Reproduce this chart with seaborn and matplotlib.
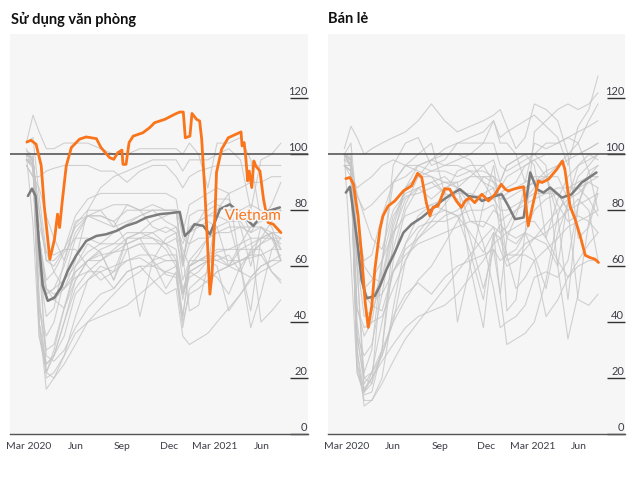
"""Office use and retail mobility, Vietnam against other countries."""

import matplotlib
matplotlib.use("Agg")
import matplotlib.patheffects as pe
import matplotlib.pyplot as plt
import matplotlib.transforms as mtransforms
import pandas as pd
import seaborn as sns


sns.set_theme(style="white")
plt.rcParams["font.family"] = ["Lato", "DejaVu Sans"]

ORANGE = "#f9741a"
GREY_LINE = "#c6c6c6"
MEDIAN_GREY = "#7c7c7c"
PANEL_BG = "#f6f6f6"

# shared sample dates for the grey country lines
GRID_DATES = ["2020-02-26", "2020-03-10", "2020-03-22", "2020-04-05", "2020-04-20",
              "2020-05-10", "2020-06-01", "2020-06-25", "2020-07-20", "2020-08-15",
              "2020-09-10", "2020-10-05", "2020-10-30", "2020-11-25", "2020-12-15",
              "2020-12-28", "2021-01-10", "2021-01-28", "2021-02-15", "2021-03-05",
              "2021-03-28", "2021-04-20", "2021-05-10", "2021-05-30", "2021-06-20",
              "2021-07-08"]

# --- office use, other countries ---
office_uk = [100, 98, 60, 28, 26, 30, 38, 45, 50, 52, 58, 60, 55, 50, 52, 35, 32, 34, 36, 40, 45, 50, 55, 58, 60, 62]
office_es = [102, 97, 40, 22, 20, 28, 42, 55, 60, 58, 62, 63, 60, 58, 57, 40, 50, 52, 55, 58, 60, 62, 63, 64, 58, 55]
office_it = [100, 75, 35, 25, 28, 40, 55, 62, 65, 55, 66, 68, 62, 57, 56, 38, 52, 55, 58, 56, 50, 60, 65, 68, 70, 62]
office_fr = [101, 100, 45, 30, 32, 45, 60, 68, 65, 55, 70, 70, 62, 52, 58, 42, 60, 62, 64, 62, 60, 58, 66, 70, 72, 62]
office_de = [100, 99, 70, 55, 58, 65, 70, 70, 68, 68, 72, 72, 70, 66, 60, 42, 58, 60, 62, 64, 62, 62, 64, 68, 72, 70]
office_us = [100, 99, 65, 48, 48, 52, 56, 58, 58, 60, 62, 64, 64, 62, 62, 48, 60, 62, 63, 65, 66, 68, 70, 70, 72, 72]
office_in = [98, 96, 40, 25, 28, 40, 52, 58, 62, 66, 70, 72, 76, 78, 80, 72, 82, 84, 86, 88, 86, 60, 38, 50, 66, 70]
office_br = [98, 96, 60, 50, 52, 55, 60, 65, 68, 72, 75, 78, 80, 80, 80, 62, 72, 74, 76, 74, 60, 68, 74, 76, 78, 80]
office_jp = [96, 92, 88, 78, 70, 62, 75, 80, 80, 74, 82, 80, 82, 80, 80, 60, 78, 80, 80, 82, 80, 80, 72, 78, 80, 80]
office_kr = [96, 92, 92, 94, 95, 96, 96, 96, 94, 94, 90, 94, 96, 96, 92, 88, 92, 94, 95, 96, 96, 96, 96, 96, 96, 96]
office_tw = [104, 114, 108, 102, 102, 104, 104, 104, 102, 100, 100, 102, 102, 102, 102, 100, 104, 100, 88, 104, 104, 106, 98, 76, 82, 90]
office_id = [98, 98, 70, 52, 48, 45, 55, 62, 66, 68, 68, 70, 70, 68, 70, 60, 68, 70, 70, 72, 74, 74, 60, 74, 72, 62]
office_ph = [98, 95, 35, 22, 28, 35, 50, 55, 58, 52, 58, 60, 60, 62, 62, 50, 60, 62, 62, 60, 44, 50, 56, 60, 62, 62]
office_mx = [100, 98, 70, 52, 50, 52, 58, 62, 64, 65, 66, 68, 68, 68, 66, 50, 56, 58, 62, 64, 60, 66, 68, 70, 70, 70]
office_au = [100, 98, 80, 62, 62, 66, 74, 78, 76, 74, 76, 78, 80, 80, 80, 62, 72, 76, 78, 80, 82, 80, 82, 80, 74, 66]
office_ar = [98, 98, 50, 20, 22, 28, 36, 40, 42, 44, 46, 50, 54, 58, 60, 50, 58, 60, 62, 62, 64, 58, 56, 60, 62, 64]
office_za = [100, 98, 70, 22, 30, 45, 58, 62, 62, 65, 68, 70, 72, 74, 72, 55, 62, 66, 70, 72, 72, 74, 74, 74, 70, 66]
office_pe = [98, 96, 40, 16, 20, 25, 32, 40, 45, 50, 55, 58, 62, 64, 64, 52, 58, 56, 54, 58, 60, 62, 64, 64, 66, 66]
office_th = [98, 97, 80, 62, 60, 66, 78, 84, 86, 86, 86, 86, 86, 86, 84, 70, 68, 76, 82, 84, 84, 74, 72, 74, 70, 68]
office_tr = [98, 96, 70, 50, 52, 60, 72, 78, 78, 76, 80, 80, 80, 76, 74, 68, 74, 76, 78, 78, 76, 60, 44, 70, 76, 80]
office_my = [100, 96, 45, 35, 40, 55, 70, 78, 80, 82, 82, 80, 74, 72, 74, 66, 60, 64, 70, 74, 76, 76, 70, 40, 44, 48]
office_se = [100, 98, 75, 65, 64, 66, 66, 60, 55, 58, 70, 72, 72, 68, 62, 50, 62, 62, 64, 66, 66, 66, 66, 66, 58, 54]
office_il = [100, 98, 60, 42, 45, 62, 76, 78, 78, 76, 68, 42, 62, 70, 72, 64, 44, 46, 60, 80, 86, 88, 90, 90, 92, 92]
office_eg = [104, 106, 85, 65, 58, 52, 62, 80, 88, 92, 94, 96, 98, 98, 98, 94, 98, 98, 98, 100, 102, 98, 80, 98, 100, 104]

# --- retail, other countries ---
retail_uk = [100, 95, 35, 20, 22, 28, 40, 62, 72, 78, 80, 78, 65, 48, 72, 50, 32, 34, 36, 40, 55, 78, 88, 90, 92, 92]
retail_es = [100, 96, 25, 12, 12, 20, 45, 68, 78, 82, 80, 78, 72, 65, 72, 70, 62, 64, 68, 70, 75, 80, 84, 88, 90, 88]
retail_it = [100, 62, 22, 15, 18, 30, 62, 80, 88, 90, 86, 84, 70, 52, 66, 50, 70, 68, 72, 64, 52, 72, 82, 92, 96, 100]
retail_fr = [100, 98, 22, 14, 15, 30, 70, 88, 92, 92, 90, 90, 60, 38, 70, 75, 72, 70, 72, 70, 68, 60, 84, 96, 100, 98]
retail_de = [100, 99, 45, 35, 40, 62, 78, 85, 86, 88, 90, 88, 82, 68, 52, 38, 40, 42, 46, 56, 58, 56, 62, 82, 94, 96]
retail_us = [100, 100, 65, 52, 55, 62, 72, 78, 80, 82, 84, 86, 86, 84, 84, 80, 80, 82, 84, 88, 92, 96, 98, 100, 102, 104]
retail_in = [96, 94, 35, 18, 22, 30, 40, 48, 55, 60, 68, 76, 84, 92, 92, 90, 96, 98, 100, 100, 96, 60, 34, 50, 76, 88]
retail_br = [96, 96, 45, 38, 40, 42, 52, 62, 70, 76, 82, 88, 92, 96, 98, 90, 96, 98, 100, 96, 70, 84, 92, 96, 98, 100]
retail_jp = [96, 94, 86, 78, 70, 66, 80, 86, 88, 84, 88, 90, 92, 92, 90, 84, 86, 88, 90, 92, 92, 92, 84, 86, 90, 92]
retail_kr = [96, 92, 88, 90, 92, 96, 98, 96, 94, 92, 86, 94, 96, 96, 90, 88, 92, 94, 96, 98, 100, 100, 100, 100, 102, 104]
retail_tw = [102, 110, 106, 100, 102, 104, 106, 108, 112, 118, 112, 108, 110, 112, 114, 116, 110, 102, 106, 118, 116, 112, 100, 70, 74, 86]
retail_id = [98, 98, 65, 50, 46, 44, 58, 68, 74, 76, 76, 78, 80, 80, 82, 76, 78, 80, 82, 84, 86, 86, 80, 84, 80, 62]
retail_ph = [96, 94, 25, 16, 20, 28, 42, 50, 54, 50, 56, 60, 62, 64, 66, 62, 64, 64, 64, 62, 42, 48, 56, 60, 62, 62]
retail_mx = [100, 98, 70, 50, 48, 50, 58, 64, 68, 70, 72, 74, 76, 76, 74, 66, 60, 62, 66, 70, 72, 76, 80, 82, 84, 86]
retail_au = [100, 98, 72, 62, 64, 78, 90, 96, 96, 94, 96, 98, 100, 104, 104, 96, 94, 96, 98, 100, 104, 104, 106, 104, 94, 80]
retail_ar = [96, 96, 30, 15, 20, 26, 32, 38, 42, 44, 46, 50, 56, 62, 68, 70, 72, 74, 76, 76, 70, 62, 56, 62, 68, 72]
retail_za = [100, 98, 60, 15, 22, 40, 58, 66, 70, 74, 78, 80, 84, 86, 88, 72, 74, 80, 84, 86, 86, 88, 88, 88, 84, 78]
retail_pe = [96, 94, 30, 10, 12, 18, 26, 34, 40, 46, 52, 58, 64, 70, 74, 72, 64, 52, 56, 62, 66, 70, 74, 76, 78, 80]
retail_th = [98, 96, 70, 50, 48, 56, 76, 88, 92, 94, 94, 92, 94, 94, 92, 84, 70, 78, 88, 90, 92, 82, 76, 78, 76, 72]
retail_tr = [96, 94, 62, 42, 44, 54, 74, 88, 96, 98, 100, 100, 98, 90, 84, 86, 88, 90, 96, 98, 92, 78, 48, 82, 92, 96]
retail_my = [100, 96, 35, 28, 32, 50, 72, 84, 88, 90, 92, 88, 76, 74, 80, 78, 64, 66, 72, 80, 84, 86, 80, 48, 46, 50]
retail_se = [100, 98, 85, 80, 82, 86, 90, 92, 96, 98, 96, 96, 94, 90, 88, 84, 84, 86, 88, 90, 94, 96, 100, 104, 112, 118]
retail_il = [100, 96, 40, 22, 30, 62, 90, 96, 100, 104, 86, 40, 60, 82, 96, 80, 44, 48, 72, 108, 112, 116, 118, 116, 118, 122]
retail_eg = [100, 104, 80, 60, 56, 54, 66, 82, 92, 98, 102, 104, 106, 108, 112, 106, 108, 110, 112, 114, 110, 106, 96, 110, 116, 128]
retail_nz = [100, 100, 60, 20, 18, 60, 96, 104, 106, 96, 98, 104, 104, 104, 112, 104, 104, 100, 90, 104, 102, 104, 106, 108, 110, 112]

# --- office use: median and Vietnam ---
office_median_dates = ["2020-02-29", "2020-03-08", "2020-03-15", "2020-03-22", "2020-03-29",
                       "2020-04-08", "2020-04-21", "2020-05-04", "2020-05-17", "2020-06-02",
                       "2020-06-22", "2020-07-12", "2020-07-31", "2020-08-20", "2020-09-08",
                       "2020-09-28", "2020-10-18", "2020-11-13", "2020-12-06", "2020-12-22",
                       "2021-01-01", "2021-01-11", "2021-01-20", "2021-02-06", "2021-02-19",
                       "2021-03-11", "2021-03-30", "2021-04-25", "2021-05-15", "2021-06-04",
                       "2021-07-06"]
office_median = [85.1, 87.7, 85.1, 67.3, 53, 47.6, 48.8, 52.4, 58.3, 63.7, 69, 70.8, 71.4,
                 72.6, 74.4, 75.6, 77.4, 78.6, 79, 79.4, 70.8, 72.6, 75, 74.4, 71.4, 80.4,
                 82.1, 78, 74.4, 79.2, 81]

office_vn_dates = ["2020-02-27", "2020-03-06", "2020-03-16", "2020-03-26", "2020-04-01",
                   "2020-04-12", "2020-04-21", "2020-04-27", "2020-05-01", "2020-05-06",
                   "2020-05-14", "2020-05-24", "2020-06-09", "2020-06-22", "2020-07-12",
                   "2020-07-21", "2020-08-07", "2020-08-15", "2020-08-23", "2020-08-31",
                   "2020-09-02", "2020-09-08", "2020-09-14", "2020-09-22", "2020-10-11",
                   "2020-10-24", "2020-11-03", "2020-11-13", "2020-11-23", "2020-12-12",
                   "2020-12-22", "2020-12-29", "2021-01-02", "2021-01-11", "2021-01-15",
                   "2021-01-24", "2021-01-30", "2021-02-03", "2021-02-09", "2021-02-14",
                   "2021-02-19", "2021-02-23", "2021-03-01", "2021-03-04", "2021-03-14",
                   "2021-03-27", "2021-04-21", "2021-04-23", "2021-04-27", "2021-04-30",
                   "2021-05-04", "2021-05-07", "2021-05-12", "2021-05-16", "2021-05-20",
                   "2021-05-28", "2021-06-04", "2021-06-13", "2021-06-23", "2021-07-08"]
office_vn = [104.4, 105, 103.6, 96, 81.5, 62.5, 69.6, 78.6, 73.8, 82.8, 95.8, 102.4, 105.4,
             106.2, 105.6, 102.4, 98.8, 98.2, 100.6, 101.5, 96.4, 96.4, 104.2, 106.5, 107.7,
             109.5, 111.3, 111.9, 112.5, 114.3, 115.1, 115.1, 105.9, 106.5, 114.6, 112.5,
             111.9, 105.4, 87.5, 69.6, 50, 56.5, 78, 93.5, 101.8, 105.9, 108, 103, 104.2,
             99.4, 90.5, 94, 88.1, 97.6, 95.8, 94, 83.9, 75.6, 75, 72]

# --- retail: median and Vietnam ---
retail_median_dates = ["2020-02-29", "2020-03-08", "2020-03-23", "2020-03-31", "2020-04-10",
                       "2020-04-26", "2020-05-06", "2020-05-19", "2020-06-04", "2020-06-21",
                       "2020-07-07", "2020-07-27", "2020-08-12", "2020-09-04", "2020-09-23",
                       "2020-10-10", "2020-10-26", "2020-11-15", "2020-11-22", "2020-12-18",
                       "2020-12-31", "2021-01-13", "2021-01-26", "2021-02-12", "2021-02-25",
                       "2021-03-10", "2021-03-23", "2021-04-05", "2021-04-28", "2021-05-17",
                       "2021-06-06", "2021-07-05"]
retail_median = [86.3, 88.4, 68, 55, 48.5, 49.4, 53, 58.9, 64.9, 72, 75, 77.4, 79.8, 83.3,
                 85.7, 87.5, 85.1, 84.5, 83.3, 85.1, 85.7, 81.5, 76.8, 77.4, 93.5, 87.5,
                 86.3, 88.1, 84.5, 85.7, 89.9, 93.5]

retail_vn_dates = ["2020-02-29", "2020-03-08", "2020-03-15", "2020-03-24", "2020-03-31",
                   "2020-04-07", "2020-04-13", "2020-04-20", "2020-04-26", "2020-05-06",
                   "2020-05-12", "2020-05-22", "2020-06-04", "2020-06-21", "2020-07-07",
                   "2020-07-19", "2020-07-27", "2020-08-05", "2020-08-12", "2020-08-18",
                   "2020-08-28", "2020-09-10", "2020-09-20", "2020-10-03", "2020-10-13",
                   "2020-10-20", "2020-10-29", "2020-11-08", "2020-11-22", "2020-12-05",
                   "2020-12-18", "2020-12-30", "2021-01-07", "2021-01-13", "2021-01-26",
                   "2021-02-12", "2021-02-21", "2021-03-03", "2021-03-13", "2021-03-20",
                   "2021-04-02", "2021-04-18", "2021-04-29", "2021-05-04", "2021-05-14",
                   "2021-05-24", "2021-06-03", "2021-06-13", "2021-06-22", "2021-07-02",
                   "2021-07-09"]
retail_vn = [91.3, 91.7, 89.3, 78, 63.7, 47, 38.1, 45.8, 58.9, 73.2, 78, 81.5, 83.3, 86.9,
             88.7, 93.2, 91.7, 82.7, 78, 81, 81.5, 87.7, 87.5, 83.3, 81, 83.3, 84.5, 82.7,
             85.7, 83.3, 85.7, 89.3, 87.5, 86.9, 87.7, 88.4, 74.4, 82.7, 90.5, 89.9, 91.1,
             94.6, 97.6, 94.6, 81.5, 76.8, 70.8, 63.9, 63.1, 62.5, 61.3]

office_others = [office_uk, office_es, office_it, office_fr, office_de, office_us, office_in,
                 office_br, office_jp, office_kr, office_tw, office_id, office_ph, office_mx,
                 office_au, office_ar, office_za, office_pe, office_th, office_tr, office_my,
                 office_se, office_il, office_eg]
retail_others = [retail_uk, retail_es, retail_it, retail_fr, retail_de, retail_us, retail_in,
                 retail_br, retail_jp, retail_kr, retail_tw, retail_id, retail_ph, retail_mx,
                 retail_au, retail_ar, retail_za, retail_pe, retail_th, retail_tr, retail_my,
                 retail_se, retail_il, retail_eg, retail_nz]

Y_TICKS = [0, 20, 40, 60, 80, 100, 120]
X_TICKS = ["2020-03-01", "2020-06-01", "2020-09-01", "2020-12-01", "2021-03-01", "2021-06-01"]
X_LABELS = ["Mar 2020", "Jun", "Sep", "Dec", "Mar 2021", "Jun"]


def others_frame(series_list):
    parts = []
    for i, vals in enumerate(series_list):
        parts.append(pd.DataFrame({"date": pd.to_datetime(GRID_DATES), "value": vals, "unit": i}))
    return pd.concat(parts, ignore_index=True)


def draw_panel(ax, others, med_dates, med_vals, vn_dates, vn_vals, label_vn):
    ax.set_facecolor(PANEL_BG)
    sns.lineplot(data=others_frame(others), x="date", y="value", units="unit",
                 estimator=None, color=GREY_LINE, lw=0.8, alpha=0.8, ax=ax)
    ax.axhline(100, color="#4a4a4a", lw=1.1, zorder=3)
    sns.lineplot(x=pd.to_datetime(med_dates), y=med_vals, color=MEDIAN_GREY, lw=1.8, ax=ax, zorder=4)
    sns.lineplot(x=pd.to_datetime(vn_dates), y=vn_vals, color=ORANGE, lw=2.0, ax=ax, zorder=5)

    ax.set_xlim(pd.Timestamp("2020-01-25"), pd.Timestamp("2021-08-30"))
    ax.set_ylim(0, 143)
    ax.set_xlabel("")
    ax.set_ylabel("")

    for side in ["left", "right", "top"]:
        ax.spines[side].set_visible(False)
    ax.spines["bottom"].set_color("#555555")
    ax.spines["bottom"].set_linewidth(1.0)

    ax.set_xticks(pd.to_datetime(X_TICKS))
    ax.set_xticklabels(X_LABELS)
    ax.tick_params(axis="x", direction="out", length=3, width=0.8, color="#444444",
                   labelsize=7.5, labelcolor="#3d3d48", pad=2)

    ax.yaxis.tick_right()
    ax.set_yticks(Y_TICKS)
    ax.tick_params(axis="y", direction="in", length=13, width=1.0, color="#333333",
                   labelright=False, labelleft=False)
    trans = mtransforms.blended_transform_factory(ax.transAxes, ax.transData)
    for v in Y_TICKS:
        ax.text(0.997, v + 0.8, str(v), transform=trans, ha="right", va="bottom",
                fontsize=8, color="#3d3d48")

    if label_vn:
        ax.text(pd.Timestamp("2021-07-08"), 78, "Vietnam", ha="right", va="center",
                color=ORANGE, fontsize=11, zorder=6,
                path_effects=[pe.withStroke(linewidth=2.5, foreground=PANEL_BG)])


fig = plt.figure(figsize=(6.4, 4.81), dpi=100)
ax_office = fig.add_axes([10 / 640, 46 / 481, 298 / 640, 400 / 481])
ax_retail = fig.add_axes([328 / 640, 46 / 481, 297 / 640, 400 / 481])

draw_panel(ax_office, office_others, office_median_dates, office_median,
           office_vn_dates, office_vn, True)
draw_panel(ax_retail, retail_others, retail_median_dates, retail_median,
           retail_vn_dates, retail_vn, False)

fig.text(11 / 640, 1 - 19 / 481, "Sử dụng văn phòng", ha="left", va="center",
         fontsize=10.5, fontweight="bold", color="#111111")
fig.text(328 / 640, 1 - 19 / 481, "Bán lẻ", ha="left", va="center",
         fontsize=10.5, fontweight="bold", color="#111111")

fig.savefig("out.png", dpi=100)
